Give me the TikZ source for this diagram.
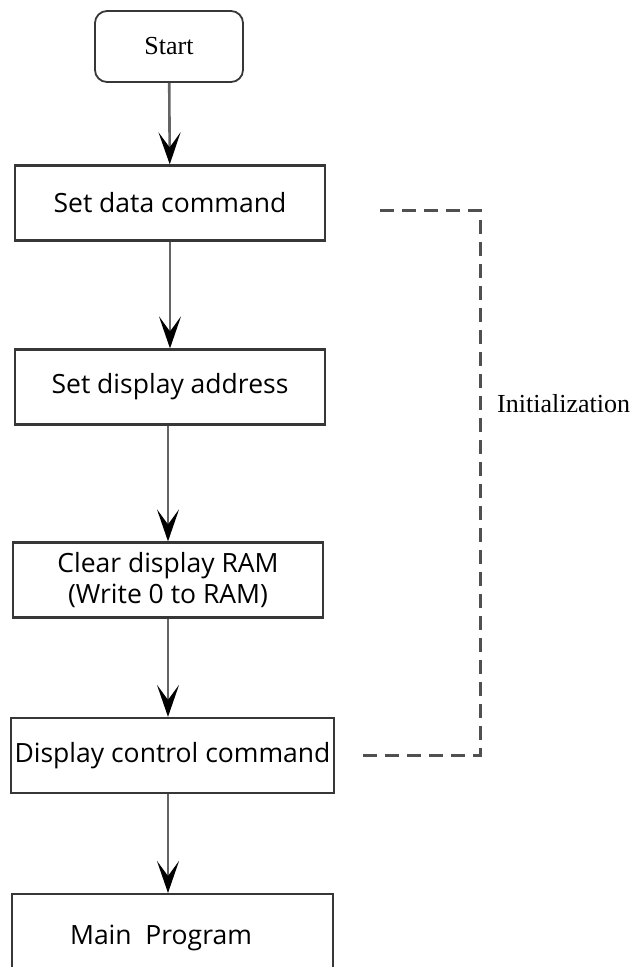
\documentclass[tikz,border=0pt]{standalone}
\usepackage{fontspec}
\setmainfont{Liberation Serif}
\newfontfamily\boxfont{Open Sans}
\usetikzlibrary{arrows.meta}
\definecolor{dLine}{RGB}{55,55,55}
\definecolor{dArrow}{RGB}{100,100,100}
\definecolor{dDash}{RGB}{80,80,80}
\tikzset{
  term/.style={rectangle, rounded corners=12pt, draw=dLine, line width=1.8pt,
               minimum width=148pt, minimum height=71pt, align=center,
               font=\fontsize{26}{28}\selectfont},
  proc/.style={rectangle, draw=dLine, line width=2.2pt, minimum height=75pt,
               align=center, font=\boxfont\fontsize{26.5}{31}\selectfont},
  flow/.style={-{Stealth[length=32pt,width=22pt,inset=15pt,color=black]},
               draw=dArrow, line width=2.6pt},
  initl/.style={draw=dDash, line width=3pt, dash pattern=on 14pt off 8pt},
  lbl/.style={font=\fontsize{26}{28}\selectfont, anchor=west, inner sep=0pt},
}
\begin{document}
\begin{tikzpicture}[x=1pt, y=-1pt]
  \useasboundingbox (0,0) rectangle (632,967);
  \clip (0,0) rectangle (632,967);

  \node[term] (start) at (169,46.5) {Start};
  \node[proc, minimum width=310pt] (setdata) at (170,203) {Set data command};
  \node[proc, minimum width=310pt] (setaddr) at (170,387) {Set display address};
  \node[proc, minimum width=310pt] (clearram) at (168,580)
       {Clear display RAM\\(Write 0 to RAM)};
  \node[proc, minimum width=321pt] (dispctrl) at (172.5,755.5) {Display control command};
  \node[proc, minimum width=321pt, minimum height=150pt, anchor=north] (mainprog)
       at (172.5,893) {};
  \node[font=\boxfont\fontsize{26.5}{31}\selectfont] (maintxt) at (161,938) {Main\ \ Program};

  % flow
  \draw[flow] (start) -- (setdata);
  \draw[flow] (setdata) -- (setaddr);
  \draw[flow] (setaddr.south -| clearram) -- (clearram);
  \draw[flow] (clearram) -- (clearram |- dispctrl.north);
  \draw[flow] (clearram |- dispctrl.south) -- (clearram |- mainprog.north);

  % initialization bracket
  \coordinate (inittop) at (380,210);
  \coordinate (initbot) at (362,755);
  \draw[initl] (inittop) -- (480,210) -- (480,755) -- (initbot);
  \node[lbl] (initlbl) at (497,404) {Initialization};
\end{tikzpicture}
\end{document}
